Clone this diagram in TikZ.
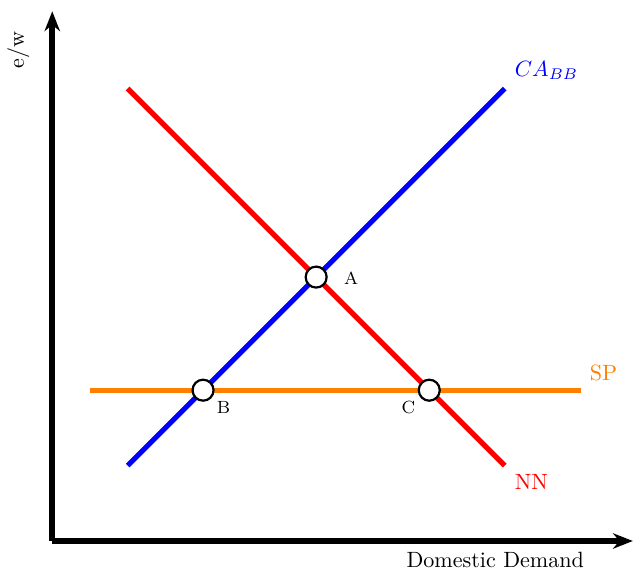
\documentclass[tikz,border=0pt]{standalone}
\usetikzlibrary{arrows.meta}
\begin{document}
\begin{tikzpicture}[x=0.6cm,y=0.6cm,
  axis/.style={line width=2.8pt,-{Stealth[length=9pt,width=7pt]}},
  curve/.style={line width=2.4pt},
  eq/.style={circle,draw=black,fill=white,line width=1pt,minimum size=9.5pt,inner sep=0pt},
  ptlabel/.style={font=\footnotesize}]
\useasboundingbox (-1.386,-0.743) rectangle (15.404,14.35);
% axes
\coordinate (O) at (0,0);
\coordinate (Yend) at (0,14.05);
\coordinate (Xend) at (15.40,0);
\draw[axis] (O) -- (Yend);
\draw[axis] (O) -- (Xend);
\node[rotate=90] (ylab) at (-0.9,13.02) {e/w};
\node (xlab) at (11.75,-0.5) {Domestic Demand};
% curve end points
\coordinate (NNs) at (2,12);
\coordinate (NNe) at (12,2);
\coordinate (CAs) at (2,2);
\coordinate (CAe) at (12,12);
\coordinate (SPs) at (1,4);
\coordinate (SPe) at (14.03,4);
\draw[curve,red] (NNs) -- (NNe);
\draw[curve,blue] (CAs) -- (CAe);
\draw[curve,orange] (SPs) -- (SPe);
% curve labels
\node[text=blue] (calab) at (13.11,12.49) {$CA_{BB}$};
\node[text=red] (nnlab) at (12.71,1.56) {NN};
\node[text=orange] (splab) at (14.62,4.46) {SP};
% equilibria
\node[eq] (A) at (7,7) {};
\node[eq] (B) at (4,4) {};
\node[eq] (C) at (10,4) {};
\node[ptlabel] (Alab) at (7.93,6.98) {A};
\node[ptlabel] (Blab) at (4.54,3.53) {B};
\node[ptlabel] (Clab) at (9.45,3.53) {C};
\end{tikzpicture}
\end{document}
